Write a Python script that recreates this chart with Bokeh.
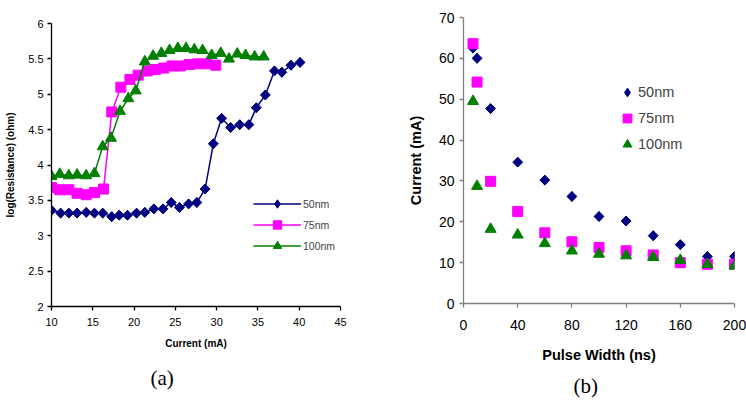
import numpy as np
from bokeh.plotting import figure
from bokeh.models import Range1d, FixedTicker, Legend, LegendItem, Title
from bokeh.layouts import row, column
from bokeh.embed import file_html
from bokeh.resources import INLINE

# ---------------- data: panel (a) ----------------
a_x_50 = [10.0, 11.1, 12.1, 13.1, 14.2, 15.2, 16.2, 17.3, 18.2, 19.2, 20.3, 21.3, 22.4, 23.5, 24.5,
          25.5, 26.6, 27.6, 28.6, 29.6, 30.6, 31.7, 32.8, 33.9, 34.8, 35.9, 37.0, 37.9, 39.0, 40.1]
a_y_50 = [3.36, 3.32, 3.32, 3.32, 3.33, 3.32, 3.32, 3.27, 3.29, 3.29, 3.32, 3.33, 3.38, 3.38, 3.47,
          3.40, 3.45, 3.47, 3.66, 4.30, 4.66, 4.53, 4.57, 4.57, 4.81, 4.99, 5.33, 5.31, 5.41, 5.45]
a_x_75 = [10.0, 11.0, 12.1, 13.1, 14.2, 15.2, 16.3, 17.3, 18.4, 19.5, 20.5, 21.6, 22.6, 23.6, 24.6,
          25.6, 26.7, 27.7, 28.8, 29.9]
a_y_75 = [3.68, 3.65, 3.65, 3.60, 3.58, 3.61, 3.66, 4.75, 5.10, 5.21, 5.27, 5.33, 5.35, 5.37, 5.40,
          5.40, 5.42, 5.43, 5.43, 5.41]
a_x_100 = [10.0, 11.0, 12.1, 13.1, 14.2, 15.2, 16.2, 17.2, 18.3, 19.3, 20.2, 21.3, 22.3, 23.3, 24.3,
           25.3, 26.3, 27.3, 28.3, 29.4, 30.5, 31.5, 32.5, 33.5, 34.6, 35.7]
a_y_100 = [3.84, 3.87, 3.85, 3.86, 3.85, 3.88, 4.26, 4.38, 4.76, 4.94, 5.05, 5.46, 5.54, 5.58, 5.62,
           5.65, 5.65, 5.63, 5.62, 5.55, 5.58, 5.50, 5.57, 5.55, 5.53, 5.53]
a_xticks = [10, 15, 20, 25, 30, 35, 40, 45]
a_yticks = [2, 2.5, 3, 3.5, 4, 4.5, 5, 5.5, 6]
a_ytick_labels = ["2", "2.5", "3", "3.5", "4", "4.5", "5", "5.5", "6"]

# ---------------- data: panel (b) ----------------
b_x = [7, 10, 20, 40, 60, 80, 100, 120, 140, 160, 180, 200]
b_y_50 = [62.5, 60.0, 47.7, 34.6, 30.2, 26.2, 21.3, 20.2, 16.6, 14.4, 11.5, 11.5]
b_y_75 = [63.6, 54.2, 29.9, 22.5, 17.3, 15.1, 13.7, 12.9, 11.9, 10.0, 9.6, 9.6]
b_y_100 = [49.5, 28.7, 18.2, 16.8, 14.7, 12.9, 12.1, 11.7, 11.3, 10.6, 9.6, 9.2]
b_xticks = [0, 40, 80, 120, 160, 200]
b_yticks = [0, 10, 20, 30, 40, 50, 60, 70]

series_names = ["50nm", "75nm", "100nm"]
captions = ["(a)", "(b)"]
NAVY, MAGENTA, GREEN = "#000080", "#FF00FF", "#008000"
SANS = "Liberation Sans"
SERIF = "Liberation Serif"


def style_axes(p, color, tick_size, label_size):
    for ax in (p.xaxis[0], p.yaxis[0]):
        ax.axis_line_color = color
        ax.axis_line_width = 1.3
        ax.major_tick_line_color = color
        ax.major_tick_line_width = 1.3
        ax.major_tick_in = 0
        ax.major_tick_out = 4
        ax.minor_tick_line_color = None
        ax.major_label_text_font = SANS
        ax.major_label_text_font_size = tick_size
        ax.major_label_text_color = "#000000"
        ax.axis_label_text_font = SANS
        ax.axis_label_text_font_size = label_size
        ax.axis_label_text_font_style = "bold"
        ax.axis_label_text_color = "#000000"
    p.xgrid.visible = False
    p.ygrid.visible = False
    p.outline_line_color = None


# ---------------- panel (a) ----------------
pa = figure(width=380, height=405, output_backend="svg", toolbar_location=None,
            x_range=Range1d(10, 45), y_range=Range1d(2, 6),
            min_border_left=51, min_border_right=40, min_border_top=23, min_border_bottom=99)
pa.xaxis.axis_label = "Current (mA)"
pa.yaxis.axis_label = "log(Resistance) (ohm)"
pa.xaxis.ticker = FixedTicker(ticks=a_xticks)
pa.yaxis.ticker = FixedTicker(ticks=a_yticks)
pa.yaxis.major_label_overrides = {t: l for t, l in zip(a_yticks, a_ytick_labels)}
style_axes(pa, "#000000", "11px", "10px")
pa.xaxis.major_label_standoff = 7
pa.xaxis.axis_label_standoff = 9
pa.yaxis.major_label_standoff = 4
pa.yaxis.axis_label_standoff = 9

l50 = pa.line(a_x_50, a_y_50, line_color=NAVY, line_width=1.5)
pa.scatter(a_x_50, a_y_50, marker="square", angle=np.pi / 4, size=7,
           fill_color=NAVY, line_color=NAVY)
# diamond overlay (sits inside the rotated squares; gives the legend its diamond glyph)
d50a = pa.scatter(a_x_50, a_y_50, marker="diamond", size=9.5, fill_color=NAVY, line_color=NAVY)
l75 = pa.line(a_x_75, a_y_75, line_color=MAGENTA, line_width=1.5)
s75 = pa.scatter(a_x_75, a_y_75, marker="square", size=10, fill_color=MAGENTA, line_color=MAGENTA)
l100 = pa.line(a_x_100, a_y_100, line_color=GREEN, line_width=1.5)
s100 = pa.scatter(a_x_100, a_y_100, marker="triangle", size=11, fill_color=GREEN, line_color=GREEN)

leg_a = Legend(items=[LegendItem(label=series_names[0], renderers=[l50, d50a]),
                      LegendItem(label=series_names[1], renderers=[l75, s75]),
                      LegendItem(label=series_names[2], renderers=[l100, s100])],
               location=(202, 50), orientation="vertical",
               glyph_width=48, glyph_height=21, spacing=0, padding=0, margin=0,
               label_standoff=2, label_text_font=SANS, label_text_font_size="10.5px",
               label_height=20, border_line_color=None, background_fill_alpha=0)
pa.add_layout(leg_a)
pa.add_layout(Title(text=captions[0], align="left", offset=99, standoff=24,
                    text_font=SERIF, text_font_size="21px", text_font_style="normal",
                    text_color="#000000"), "below")

# ---------------- panel (b) ----------------
pb = figure(width=366, height=405, output_backend="svg", toolbar_location=None,
            x_range=Range1d(0, 200), y_range=Range1d(0, 70),
            min_border_left=83, min_border_right=12, min_border_top=17, min_border_bottom=102)
pb.xaxis.axis_label = "Pulse Width (ns)"
pb.yaxis.axis_label = "Current (mA)"
pb.xaxis.ticker = FixedTicker(ticks=b_xticks)
pb.yaxis.ticker = FixedTicker(ticks=b_yticks)
style_axes(pb, "#808080", "14px", "14.5px")
pb.xaxis.major_label_standoff = 12
pb.xaxis.axis_label_standoff = 14
pb.yaxis.major_label_standoff = 5
pb.yaxis.axis_label_standoff = 12

pb.scatter(b_x, b_y_50, marker="square", angle=np.pi / 4, size=7,
           fill_color=NAVY, line_color=NAVY)
d50b = pb.scatter(b_x, b_y_50, marker="diamond", size=9.5, fill_color=NAVY, line_color=NAVY)
t75 = pb.scatter(b_x, b_y_75, marker="square", size=10, fill_color=MAGENTA, line_color=MAGENTA)
t100 = pb.scatter(b_x, b_y_100, marker="triangle", size=11, fill_color=GREEN, line_color=GREEN)

leg_b = Legend(items=[LegendItem(label=series_names[0], renderers=[d50b]),
                      LegendItem(label=series_names[1], renderers=[t75]),
                      LegendItem(label=series_names[2], renderers=[t100])],
               location=(153, 146), orientation="vertical",
               glyph_width=22, glyph_height=26, spacing=0, padding=0, margin=0,
               label_standoff=0, label_text_font=SANS, label_text_font_size="14.5px",
               label_height=26, border_line_color=None, background_fill_alpha=0)
pb.add_layout(leg_b)
pb.add_layout(Title(text=captions[1], align="left", offset=110, standoff=13,
                    text_font=SERIF, text_font_size="21px", text_font_style="normal",
                    text_color="#000000"), "below")

layout = row(column(pa), column(pb))
open("out.html", "w").write(file_html(layout, INLINE))
